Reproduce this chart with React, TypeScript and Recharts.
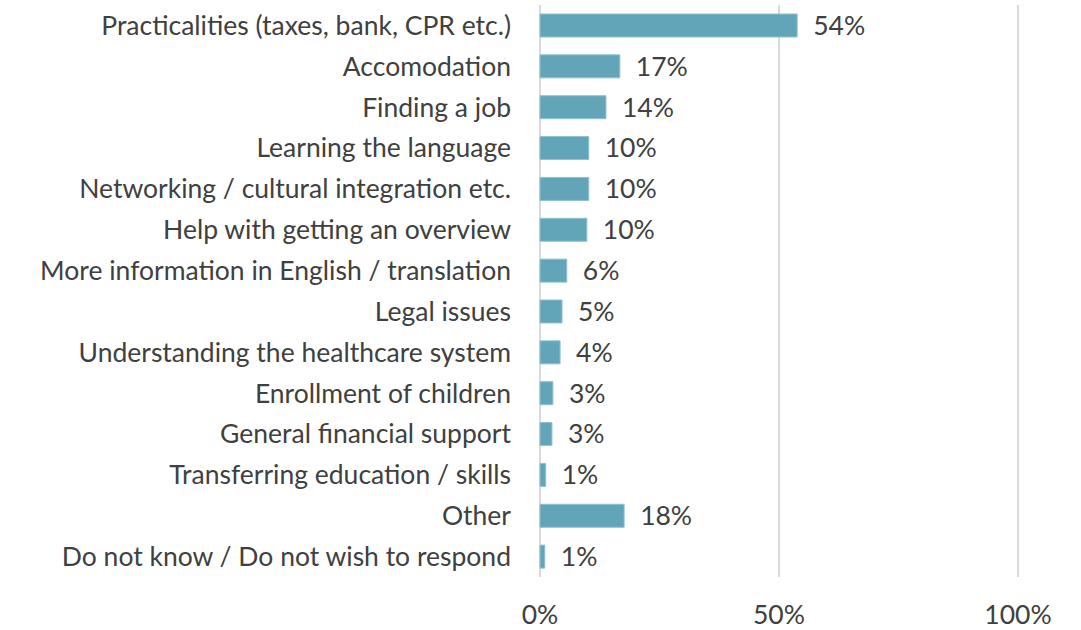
import { BarChart, Bar, XAxis, YAxis, CartesianGrid, LabelList } from 'recharts';

const CATEGORIES = [
  'Practicalities (taxes, bank, CPR etc.)',
  'Accomodation',
  'Finding a job',
  'Learning the language',
  'Networking / cultural integration etc.',
  'Help with getting an overview',
  'More information in English / translation',
  'Legal issues',
  'Understanding the healthcare system',
  'Enrollment of children',
  'General financial support',
  'Transferring education / skills',
  'Other',
  'Do not know / Do not wish to respond',
];

const SHARES = [53.8, 16.7, 13.8, 10.2, 10.2, 9.8, 5.6, 4.6, 4.2, 2.7, 2.5, 1.2, 17.6, 1.0];

const X_TICKS = [0, 50, 100];

const rows = CATEGORIES.map((name, i) => ({ name, share: SHARES[i] }));

const TEXT = '#404040';
const FONT = 'Lato, "Open Sans", sans-serif';
const SIZE = 26.5;

export default function App() {
  return (
    <div style={{ position: 'absolute', left: 0, top: 0, fontFamily: FONT }}>
      <BarChart
        width={1081}
        height={630}
        data={rows}
        layout="vertical"
        barCategoryGap="22%"
        margin={{ top: 5, right: 63, bottom: 0, left: 0 }}
      >
        <CartesianGrid horizontal={false} stroke="#d9d9d9" strokeWidth={2} />
        <XAxis
          type="number"
          domain={[0, 100]}
          ticks={X_TICKS}
          tickFormatter={(v: number) => `${v}%`}
          axisLine={false}
          tickLine={false}
          tickMargin={22}
          height={53}
          tick={{ fontSize: SIZE, fill: TEXT, fontFamily: FONT }}
        />
        <YAxis
          type="category"
          dataKey="name"
          width={540}
          axisLine={false}
          tickLine={false}
          tickMargin={23}
          interval={0}
          tick={{ fontSize: SIZE, fill: TEXT, fontFamily: FONT }}
        />
        <Bar dataKey="share" fill="#62A5B8" stroke="#8fc2d0" strokeWidth={1} isAnimationActive={false}>
          <LabelList
            dataKey="share"
            position="right"
            offset={16}
            formatter={(v: number) => `${Math.round(v)}%`}
            style={{ fontSize: SIZE, fill: TEXT, fontFamily: FONT }}
          />
        </Bar>
      </BarChart>
    </div>
  );
}
